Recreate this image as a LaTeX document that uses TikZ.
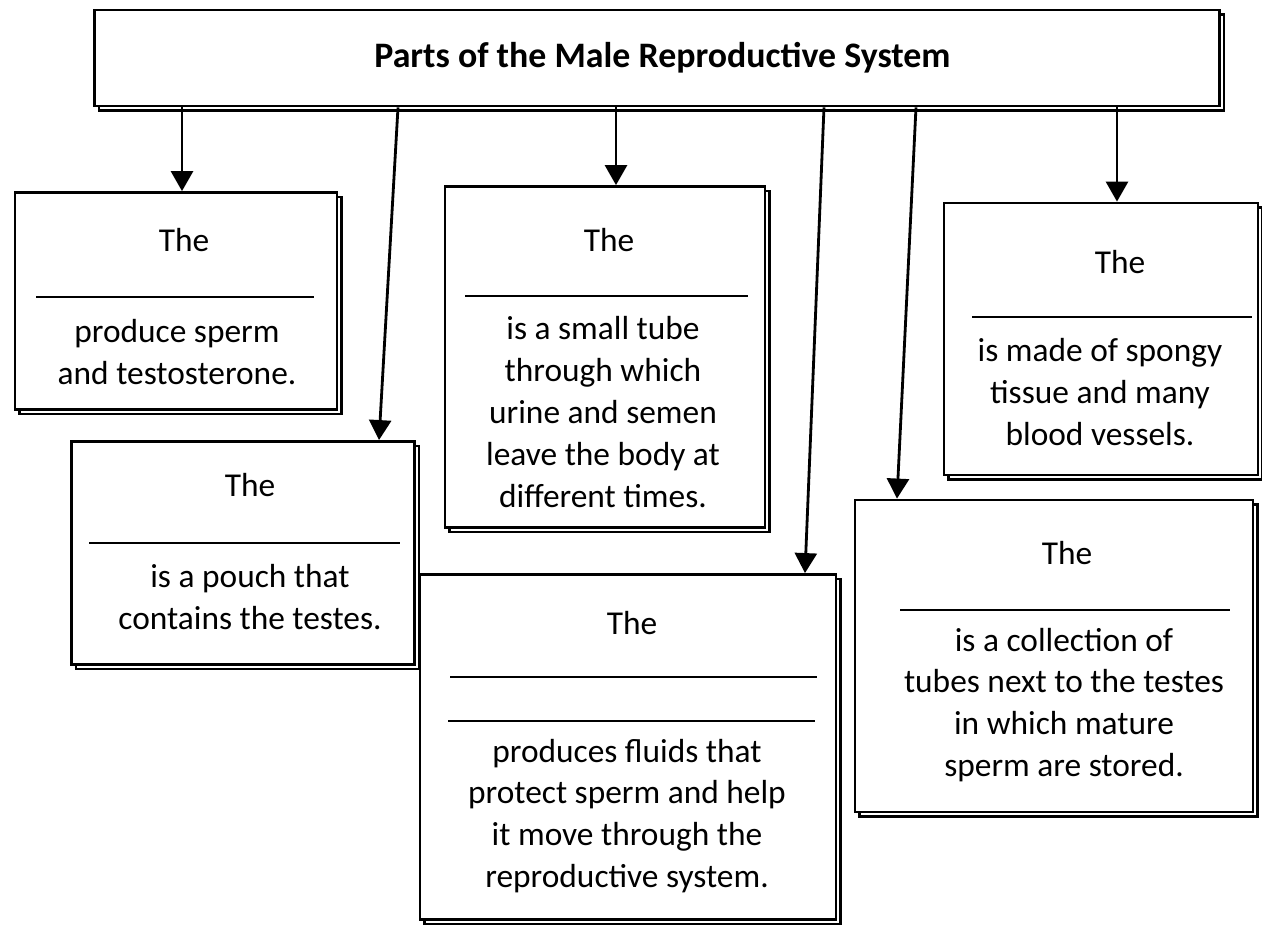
\documentclass[tikz,border=0pt]{standalone}
\usepackage{fontspec}
\setmainfont{Carlito}
\usepackage{tikz}
\usetikzlibrary{shadows}
\usetikzlibrary{arrows.meta}

\begin{document}
\begin{tikzpicture}[x=0.1mm, y=-0.1mm,
    box/.style={draw, thick, fill=white, inner sep=0pt,
      copy shadow={shadow xshift=0.45mm, shadow yshift=-0.45mm}},
    blank/.style={thick},
    arr/.style={thick, -{Triangle[width=2.2mm,length=2mm]}},
    txt/.style={align=center, inner sep=0pt, font=\fontsize{9.5}{11.9}\selectfont}]
                \useasboundingbox (0,0) rectangle (1262,926);

                % Title
                \node[box, minimum width=112.5mm, minimum height=9.6mm,
                  font=\bfseries\fontsize{10.2}{12}\selectfont] (title) at (657,58)
                  {\hspace*{1.1mm}Parts of the Male Reproductive System};

                % Testes
                \node[box, minimum width=32.2mm, minimum height=21.7mm] (testes) at (176,301) {};
                \node[txt] (testesthe) at (184,240) {The};
                \draw[blank] (36,297) -- (314,297);
                \node[txt] (testestext) at (177,352) {produce sperm\\and testosterone.};

                % Scrotum
                \node[box, minimum width=34.3mm, minimum height=22.3mm] (scrotum) at (243,553) {};
                \node[txt] (scrotumthe) at (250,485) {The};
                \draw[blank] (89,543) -- (400,543);
                \node[txt] (scrotumtext) at (250,597) {is a pouch that\\contains the testes.};

                % Urethra
                \node[box, minimum width=32mm, minimum height=34.1mm] (urethra) at (605,357) {};
                \node[txt] (urethrathe) at (609,240) {The};
                \draw[blank] (465,296) -- (748,296);
                \node[txt] (urethratext) at (603,412)
                  {is a small tube\\through which\\urine and semen\\leave the body at\\different times.};

                % Gland
                \node[box, minimum width=41.6mm, minimum height=34.5mm] (gland) at (628,747) {};
                \node[txt] (glandthe) at (632,623) {The};
                \draw[blank] (450,677) -- (817,677);
                \draw[blank] (448,721) -- (815,721);
                \node[txt] (glandtext) at (627,816)
                  {produces fluids that\\protect sperm and help\\it move through the\\reproductive system.};

                % Penis
                \node[box, minimum width=31.4mm, minimum height=27.2mm] (penis) at (1101,339) {};
                \node[txt] (penisthe) at (1120,262) {The};
                \draw[blank] (972,317) -- (1252,317);
                \node[txt] (penistext) at (1100,392)
                  {is made of spongy\\tissue and many\\blood vessels.};

                % Epididymis
                \node[box, minimum width=39.8mm, minimum height=31.2mm] (epididymis) at (1054,656) {};
                \node[txt] (epididymisthe) at (1067,553) {The};
                \draw[blank] (900,610) -- (1230,610);
                \node[txt] (epididymistext) at (1064,705)
                  {is a collection of\\tubes next to the testes\\in which mature\\sperm are stored.};

                % Arrows
                \coordinate (a1) at (182,0);
                \coordinate (a2) at (398,0);
                \coordinate (b2) at (379,0);
                \coordinate (a3) at (616,0);
                \coordinate (a4) at (824,0);
                \coordinate (b4) at (805,0);
                \coordinate (a5) at (916,0);
                \coordinate (b5) at (897,0);
                \coordinate (a6) at (1117,0);
                \draw[arr] (title.south -| a1) -- (testes.north -| a1);
                \draw[arr] (title.south -| a2) -- (scrotum.north -| b2);
                \draw[arr] (title.south -| a3) -- (urethra.north -| a3);
                \draw[arr] (title.south -| a4) -- (gland.north -| b4);
                \draw[arr] (title.south -| a5) -- (epididymis.north -| b5);
                \draw[arr] (title.south -| a6) -- (penis.north -| a6);
\end{tikzpicture}
\end{document}
